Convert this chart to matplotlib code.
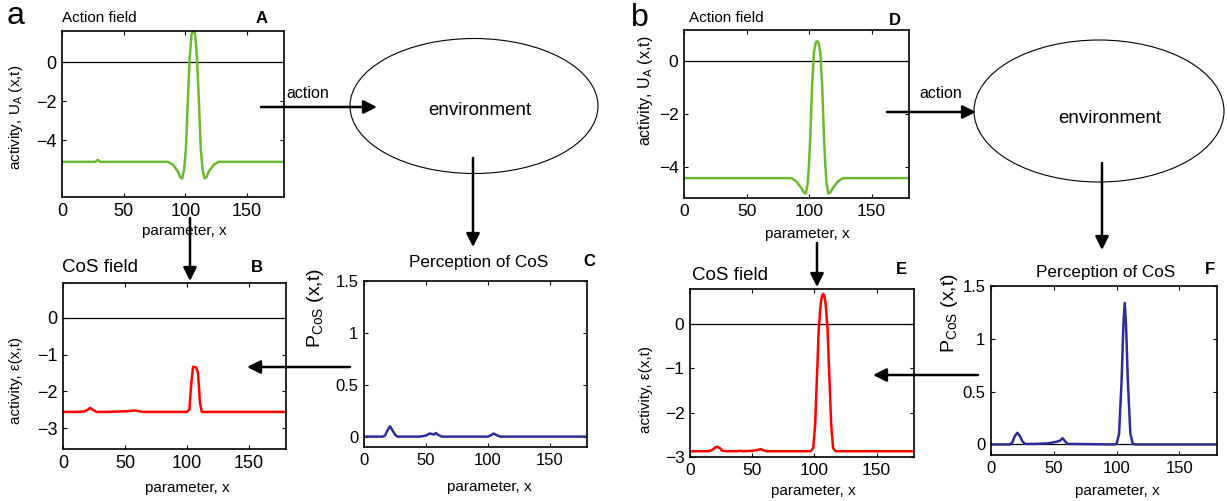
import matplotlib
matplotlib.use('Agg')
import matplotlib.pyplot as plt
from matplotlib.patches import Ellipse

plt.rcParams['font.family'] = ['Liberation Sans', 'DejaVu Sans']
plt.rcParams['mathtext.default'] = 'regular'

W, H = 1227, 501

# panel A / D: action field
xa = [0, 27, 29, 31, 86, 90, 94, 96, 97.5, 99, 100.5, 102, 103.5, 105, 106, 107, 108, 109.5, 111, 112.5, 114, 115.5, 117, 119, 123, 127, 180]
ya = [-5.1, -5.1, -5.0, -5.1, -5.1, -5.25, -5.6, -5.9, -5.95, -5.5, -4.4, -2.0, 0.2, 1.4, 1.6, 1.6, 1.4, 0.2, -2.0, -4.4, -5.5, -5.95, -5.9, -5.6, -5.25, -5.1, -5.1]
xd = [0, 86, 90, 94, 96, 97.5, 99, 100, 101, 102.5, 104, 105.5, 106.5, 107.5, 109, 110.5, 112, 113, 114, 115.5, 117, 119, 123, 127, 180]
yd = [-4.42, -4.42, -4.55, -4.8, -4.97, -5.0, -4.6, -3.9, -2.9, -0.9, 0.35, 0.7, 0.75, 0.7, 0.35, -0.9, -2.9, -3.9, -4.6, -5.0, -4.97, -4.8, -4.55, -4.42, -4.42]

# panel B / E: CoS field
xb = [0, 10, 17, 20, 22, 24, 27, 35, 45, 52, 55, 58, 61, 65, 100, 102, 103.5, 105, 107.5, 109, 110.5, 112, 180]
yb = [-2.56, -2.56, -2.55, -2.5, -2.45, -2.5, -2.56, -2.56, -2.55, -2.54, -2.53, -2.52, -2.54, -2.56, -2.56, -2.5, -1.8, -1.33, -1.35, -1.5, -2.3, -2.56, -2.56]
xe = [0, 15, 18, 20, 22, 24, 26, 30, 38, 40, 42, 50, 55, 57, 59, 62, 97, 99, 100.5, 102, 103.5, 105, 106, 107, 108, 109, 110.5, 112, 113.5, 115, 117, 180]
ye = [-2.87, -2.87, -2.84, -2.79, -2.77, -2.8, -2.86, -2.87, -2.87, -2.86, -2.87, -2.86, -2.84, -2.82, -2.85, -2.87, -2.87, -2.8, -2.3, -1.2, -0.1, 0.45, 0.63, 0.68, 0.63, 0.45, -0.1, -1.2, -2.3, -2.8, -2.87, -2.87]

# panel C / F: perception of CoS
xc = [0, 15, 17, 19, 21, 23, 25, 27, 45, 50, 53, 55, 56.5, 58, 60, 63, 100, 102, 104.5, 107, 110, 180]
yc = [0, 0, 0.01, 0.06, 0.1, 0.06, 0.02, 0, 0, 0.01, 0.03, 0.025, 0.02, 0.035, 0.015, 0, 0, 0.01, 0.03, 0.015, 0, 0]
xf = [0, 15, 17, 19, 21, 23, 25, 27, 35, 45, 52, 55, 57, 59, 61, 98, 100, 102, 104, 105.5, 106.5, 107.5, 109, 111, 113, 115, 180]
yf = [0, 0, 0.02, 0.08, 0.11, 0.08, 0.03, 0.005, 0.005, 0.01, 0.025, 0.035, 0.06, 0.03, 0.005, 0, 0.005, 0.1, 0.6, 1.15, 1.34, 1.15, 0.6, 0.1, 0.005, 0, 0]

xticks = [0, 50, 100, 150]
green, red, blue = '#6cb833', '#ff0000', '#2b2e95'

fig = plt.figure(figsize=(W / 100, H / 100), dpi=100)


def panel(left, right, top, bottom, x, y, color, ylim, yticks, yticklabels,
          ylabel, ylab_pos, ylab_size, xlab_pos, tick_size, zero_line=True):
    ax = fig.add_axes([left / W, 1 - bottom / H, (right - left) / W, (bottom - top) / H])
    if zero_line:
        ax.axhline(0, color='k', lw=0.9)
    ax.plot(x, y, color=color, lw=1.8)
    ax.set_xlim(0, 180)
    ax.set_ylim(*ylim)
    ax.set_xticks(xticks)
    ax.set_yticks(yticks)
    ax.set_yticklabels(yticklabels)
    ax.tick_params(direction='in', top=True, right=True, length=3, width=0.8,
                   labelsize=tick_size, pad=4)
    for s in ax.spines.values():
        s.set_linewidth(1.2)
    ax.set_ylabel(ylabel, fontsize=ylab_size)
    ax.yaxis.set_label_coords(*ylab_pos)
    ax.set_xlabel('parameter, x', fontsize=11)
    ax.xaxis.set_label_coords(*xlab_pos)
    return ax


panel(62, 284, 31, 197, xa, ya, green, (-6.9, 1.6), [0, -2, -4], ['0', '\u22122', '\u22124'],
      'activity, U$_A$ (x,t)', (-0.167, 0.48), 11, (0.55, -0.16), 13)
panel(63, 286, 283, 449, xb, yb, red, (-3.57, 0.95), [0, -1, -2, -3], ['0', '\u22121', '\u22122', '\u22123'],
      'activity, \u03b5(x,t)', (-0.18, 0.41), 11, (0.556, -0.19), 13)
panel(364, 587, 281, 447, xc, yc, blue, (-0.1, 1.5), [0, 0.5, 1, 1.5], ['0', '0.5', '1', '1.5'],
      'P$_{CoS}$ (x,t)', (-0.17, 0.84), 14, (0.56, -0.2), 12, zero_line=False)
panel(684, 909, 30, 198, xd, yd, green, (-5.17, 1.17), [0, -2, -4], ['0', '\u22122', '\u22124'],
      'activity, U$_A$ (x,t)', (-0.13, 0.64), 11.5, (0.55, -0.17), 12.5)
panel(690, 914, 289, 457, xe, ye, red, (-3.0, 0.79), [0, -1, -2, -3], ['0', '\u22121', '\u22122', '\u22123'],
      'activity, \u03b5(x,t)', (-0.165, 0.4), 11, (0.55, -0.16), 12.5)
panel(991, 1217, 286, 455, xf, yf, blue, (-0.1, 1.5), [0, 0.5, 1, 1.5], ['0', '0.5', '1', '1.5'],
      'P$_{CoS}$ (x,t)', (-0.137, 0.84), 14, (0.56, -0.17), 12)

# diagram layer in pixel coordinates
ov = fig.add_axes([0, 0, 1, 1])
ov.set_xlim(0, W)
ov.set_ylim(H, 0)
ov.axis('off')
ov.set_zorder(10)

ov.add_patch(Ellipse((474, 106), 248, 135, fill=False, lw=0.8, color='k'))
ov.add_patch(Ellipse((1099, 111), 250, 142, fill=False, lw=0.8, color='k'))
ov.text(480, 110, 'environment', fontsize=13.5, ha='center', va='center')
ov.text(1110, 118, 'environment', fontsize=13.5, ha='center', va='center')
ov.text(286, 93, 'action', fontsize=11.5, ha='left', va='center')
ov.text(919, 93, 'action', fontsize=11.5, ha='left', va='center')

arrows = [((261, 107), (377, 107)), ((473, 158), (473, 247)),
          ((190, 218), (190, 281)), ((350, 367), (247, 367)),
          ((887, 112), (976, 112)), ((1102, 163), (1102, 250)),
          ((817, 243), (817, 287)), ((978, 375), (873, 375))]
for start, tip in arrows:
    ov.annotate('', xy=tip, xytext=start,
                arrowprops=dict(arrowstyle='-|>', color='k', lw=1.8,
                                mutation_scale=20, shrinkA=0, shrinkB=0))

# titles and panel letters
ov.text(62, 18, 'Action field', fontsize=11, ha='left', va='center')
ov.text(689, 18, 'Action field', fontsize=11, ha='left', va='center')
ov.text(62, 267, 'CoS field', fontsize=13.5, ha='left', va='center')
ov.text(692, 275, 'CoS field', fontsize=13.5, ha='left', va='center')
ov.text(479, 263, 'Perception of CoS', fontsize=12.3, ha='center', va='center')
ov.text(1106, 273, 'Perception of CoS', fontsize=12.3, ha='center', va='center')
for lab, x, y in [('A', 262, 18), ('B', 257, 267), ('C', 589, 261),
                  ('D', 895, 20), ('E', 901, 270), ('F', 1210, 270)]:
    ov.text(x, y, lab, fontsize=12, fontweight='bold', ha='center', va='center')
ov.text(16, 16, 'a', fontsize=23, ha='center', va='center')
ov.text(640, 18, 'b', fontsize=23, ha='center', va='center')

fig.savefig('out.png', dpi=100)
